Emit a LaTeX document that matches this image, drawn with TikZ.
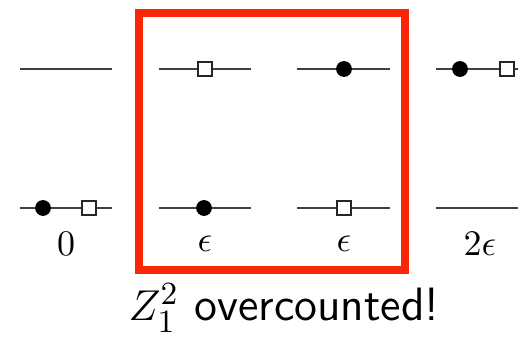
\documentclass[tikz,border=0pt]{standalone}
\usepackage{amsmath}
\definecolor{boxred}{RGB}{250,38,8}
\tikzset{
  level/.style={line width=0.65pt, black!75},
  fermion/.style={circle, fill=black, inner sep=0pt, minimum size=4.4pt},
  boson/.style={rectangle, draw=black!85, fill=white, line width=0.55pt, inner sep=0pt, minimum size=4pt},
  energy/.style={font=\fontsize{10}{12}\selectfont},
}
\begin{document}
\begin{tikzpicture}[x=0.278pt, y=-0.278pt]
    \useasboundingbox (0,0) rectangle (523,338);

    % Niveles (arriba y abajo)
    \foreach \n/\xa/\xb in {1/20/112, 2/159/251, 3/297/390, 4/436/518} {
        \coordinate (T\n a) at (\xa,69);
        \coordinate (T\n b) at (\xb,69);
        \coordinate (B\n a) at (\xa,208);
        \coordinate (B\n b) at (\xb,208);
        \draw[level] (T\n a) -- (T\n b);
        \draw[level] (B\n a) -- (B\n b);
    }

    % Particulas arriba
    \node[boson]   (t2box) at (205,69) {};
    \node[fermion] (t3dot) at (344,69) {};
    \node[fermion] (t4dot) at (460,69) {};
    \node[boson]   (t4box) at (507,69) {};

    % Particulas abajo
    \node[fermion] (b1dot) at (43,208) {};
    \node[boson]   (b1box) at (89,208) {};
    \node[fermion] (b2dot) at (204,208) {};
    \node[boson]   (b3box) at (344,208) {};

    % Energias
    \node[energy] (e1) at (66,244) {$0$};
    \node[energy] (e2) at (205,244) {$\epsilon$};
    \node[energy] (e3) at (344,244) {$\epsilon$};
    \node[energy] (e4) at (480,244) {$2\epsilon$};

    % Caja roja
    \draw[boxred, line width=2.3pt] (139,13) rectangle (405,270);
    \node[font=\fontsize{13}{15}\selectfont, inner sep=0pt] (note) at (284,308)
        {$Z_1^2$ \textsf{overcounted!}};
\end{tikzpicture}
\end{document}
